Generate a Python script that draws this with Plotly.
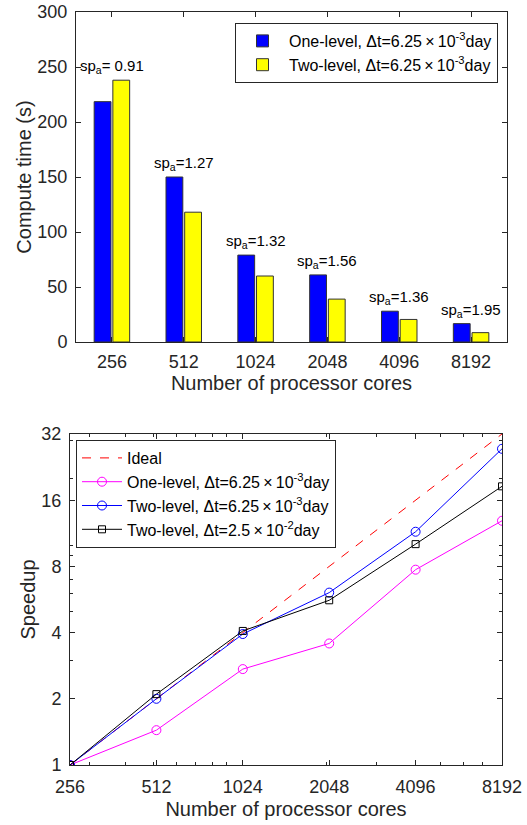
import plotly.graph_objects as go

# ---------------- data ----------------
cores = ["256", "512", "1024", "2048", "4096", "8192"]
cores_num = [256, 512, 1024, 2048, 4096, 8192]

time_one_level = [218.5, 150, 79, 61, 28, 16.7]
time_two_level = [238, 118, 60, 39, 20.5, 8.5]
sp_labels = ["sp<sub>a</sub>= 0.91", "sp<sub>a</sub>=1.27", "sp<sub>a</sub>=1.32",
             "sp<sub>a</sub>=1.56", "sp<sub>a</sub>=1.36", "sp<sub>a</sub>=1.95"]

speedup_ideal = [1, 2, 4, 8, 16, 32]
speedup_one = [1, 1.44, 2.73, 3.57, 7.73, 12.9]
speedup_two = [1, 2.0, 3.94, 6.08, 11.5, 27.4]
speedup_two_coarse = [1, 2.10, 4.07, 5.61, 10.1, 18.5]

y1_ticks = [0, 50, 100, 150, 200, 250, 300]
y2_ticks = [1, 2, 4, 8, 16, 32]
y2_minor = [3, 5, 6, 7, 9, 10, 20, 30]
x2_minor = [300, 400, 500, 600, 700, 800, 900, 2000, 3000, 5000, 6000, 7000]

# ---------------- style ----------------
FONT = "Liberation Sans, Arial, sans-serif"
AX = "#262626"
W, H = 527, 825
lbl_one = "One-level, \u0394t=6.25\u2009\u00d7\u200910<sup>-3</sup>day"
lbl_two = "Two-level, \u0394t=6.25\u2009\u00d7\u200910<sup>-3</sup>day"
lbl_two2 = "Two-level, \u0394t=2.5\u2009\u00d7\u200910<sup>-2</sup>day"

fig = go.Figure()

fig.add_trace(go.Bar(x=cores, y=time_one_level, name=lbl_one,
                     marker=dict(color="#0000FF", line=dict(color="#333333", width=1)),
                     xaxis="x", yaxis="y", legend="legend"))
fig.add_trace(go.Bar(x=cores, y=time_two_level, name=lbl_two,
                     marker=dict(color="#FFFF00", line=dict(color="#333333", width=1)),
                     xaxis="x", yaxis="y", legend="legend"))

fig.add_trace(go.Scatter(x=cores_num, y=speedup_ideal, name="Ideal", mode="lines",
                         line=dict(color="#FF0000", dash="dash", width=1),
                         xaxis="x2", yaxis="y2", legend="legend2"))
fig.add_trace(go.Scatter(x=cores_num, y=speedup_one, name=lbl_one, mode="lines+markers",
                         line=dict(color="#FF00FF", width=1),
                         marker=dict(symbol="circle-open", size=9, color="#FF00FF", line=dict(width=1)),
                         xaxis="x2", yaxis="y2", legend="legend2"))
fig.add_trace(go.Scatter(x=cores_num, y=speedup_two, name=lbl_two, mode="lines+markers",
                         line=dict(color="#0000FF", width=1),
                         marker=dict(symbol="circle-open", size=9, color="#0000FF", line=dict(width=1)),
                         xaxis="x2", yaxis="y2", legend="legend2"))
fig.add_trace(go.Scatter(x=cores_num, y=speedup_two_coarse, name=lbl_two2, mode="lines+markers",
                         line=dict(color="#000000", width=1),
                         marker=dict(symbol="square-open", size=7, color="#000000", line=dict(width=1)),
                         xaxis="x2", yaxis="y2", legend="legend2"))

# speedup annotations above bars
for i, (a, b, t) in enumerate(zip(time_one_level, time_two_level, sp_labels)):
    fig.add_annotation(x=i, y=max(a, b), xref="x", yref="y", text=t, showarrow=False,
                       xanchor="center", yanchor="bottom", yshift=2,
                       font=dict(family=FONT, size=15, color="#000000"))

axis_common = dict(showline=True, linecolor=AX, linewidth=1, mirror="ticks",
                   ticks="inside", ticklen=5, tickcolor=AX, tickwidth=1,
                   showgrid=False, zeroline=False, automargin=False,
                   tickfont=dict(family=FONT, size=18, color=AX))

fig.update_layout(
    width=W, height=H,
    margin=dict(l=0, r=0, t=0, b=0),
    paper_bgcolor="white", plot_bgcolor="white",
    font=dict(family=FONT, color=AX),
    barmode="group", bargap=0.48, bargroupgap=0.1,
    xaxis=dict(domain=[76 / W, 507 / W], anchor="y", type="category",
               range=[-0.5, 5.5], ticklabelstandoff=3,
               title=dict(text="Number of processor cores", standoff=5,
                          font=dict(family=FONT, size=20, color=AX)),
               **axis_common),
    yaxis=dict(domain=[1 - 342 / H, 1 - 12 / H], anchor="x", range=[0, 300],
               tickvals=y1_ticks, ticklabelstandoff=4,
               title=dict(text="Compute time (s)", standoff=0,
                          font=dict(family=FONT, size=20, color=AX)),
               **axis_common),
    xaxis2=dict(domain=[70 / W, 502 / W], anchor="y2", type="log",
                range=[2.40824, 3.91339], ticklabelstandoff=5,
                tickvals=cores_num, ticktext=cores,
                minor=dict(tickvals=x2_minor, ticks="inside", ticklen=3, tickcolor=AX),
                title=dict(text="Number of processor cores", standoff=6,
                           font=dict(family=FONT, size=20, color=AX)),
                **axis_common),
    yaxis2=dict(domain=[1 - 765 / H, 1 - 434 / H], anchor="x2", type="log",
                range=[0, 1.50515], ticklabelstandoff=4,
                tickvals=y2_ticks, ticktext=[str(v) for v in y2_ticks],
                minor=dict(tickvals=y2_minor, ticks="inside", ticklen=3, tickcolor=AX),
                title=dict(text="Speedup", standoff=0,
                           font=dict(family=FONT, size=20, color=AX)),
                **axis_common),
    legend=dict(x=498 / W, y=1 - 23 / H, xanchor="right", yanchor="top",
                bgcolor="white", bordercolor=AX, borderwidth=1, itemwidth=43,
                font=dict(family=FONT, size=16, color="#000000"),
                tracegroupgap=0),
    legend2=dict(x=76 / W, y=1 - 440 / H, xanchor="left", yanchor="top",
                 bgcolor="white", bordercolor=AX, borderwidth=1, itemwidth=40,
                 font=dict(family=FONT, size=16, color="#000000"),
                 tracegroupgap=0),
)

fig.write_html("out.html")
